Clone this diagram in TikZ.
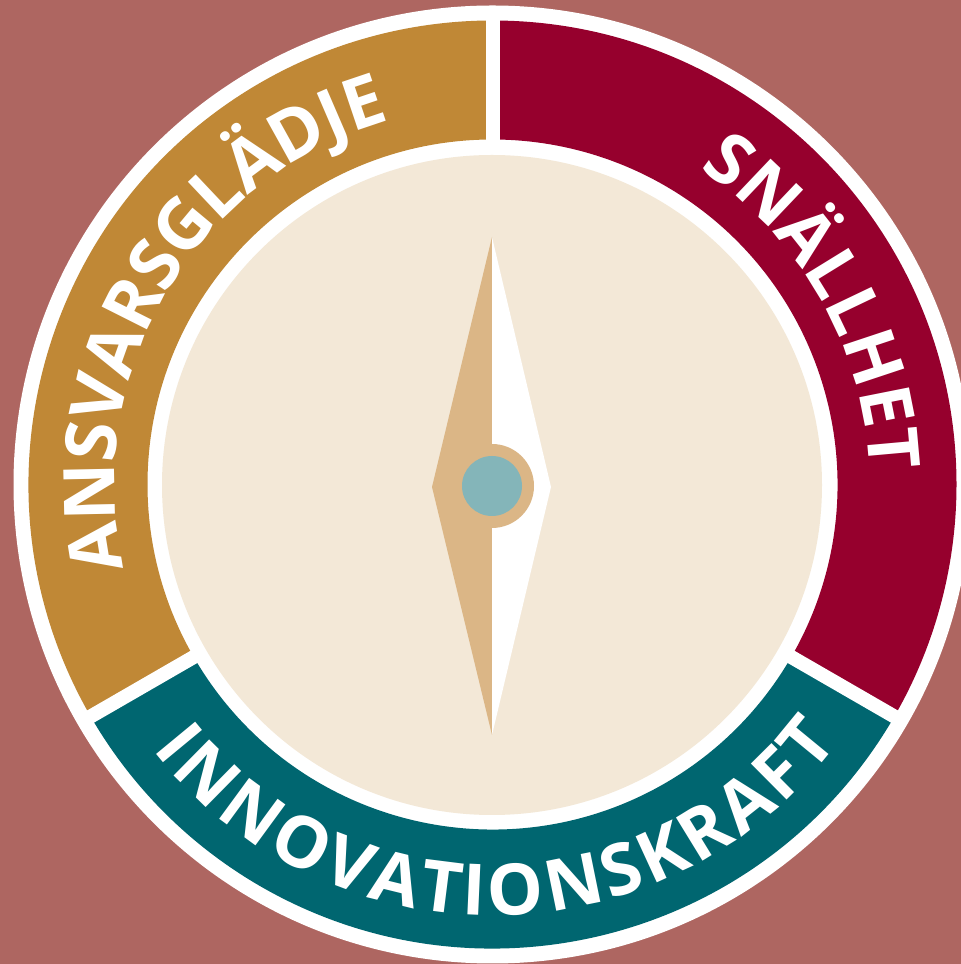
\documentclass[tikz,border=0pt]{standalone}
\usepackage{fontspec}
\setmainfont{Open Sans}[BoldFont={Open Sans Bold}]
\usetikzlibrary{decorations.text}
\definecolor{bg}{HTML}{AE6661}
\definecolor{gold}{HTML}{C08836}
\definecolor{crim}{HTML}{96002D}
\definecolor{teal2}{HTML}{006670}
\definecolor{beige}{HTML}{F3E8D7}
\definecolor{tan2}{HTML}{DBB686}
\definecolor{blue2}{HTML}{84B5B9}
\newcommand{\RO}{464}
\newcommand{\RI}{345}
\tikzset{
  fittext/.style={decorate,decoration={text effects along path,text={#1},
    text effects/.cd,text along path,fit text to path,
    characters={text=white,font=\fontsize{71}{71}\selectfont\bfseries}}},
}
\begin{document}
\begin{tikzpicture}[x=1pt,y=1pt]
\useasboundingbox (0,0) rectangle (961,964);
\fill[bg] (0,0) rectangle (961,964);
\begin{scope}
\clip (0,0) rectangle (961,964);
\coordinate (c) at (492.5,479.5);
\fill[white] (c) circle[radius=479];
\fill[crim] (c) ++(90:\RO) arc[start angle=90,end angle=-30,radius=\RO] -- ++(150:119) arc[start angle=-30,end angle=90,radius=\RI] -- cycle;
\fill[teal2] (c) ++(-30:\RO) arc[start angle=-30,end angle=-150,radius=\RO] -- ++(30:119) arc[start angle=-150,end angle=-30,radius=\RI] -- cycle;
\fill[gold] (c) ++(210:\RO) arc[start angle=210,end angle=90,radius=\RO] -- ++(-90:119) arc[start angle=90,end angle=210,radius=\RI] -- cycle;
\draw[white,line width=14pt] (c) ++(90:340) -- ++(90:130);
\draw[white,line width=14pt] (c) ++(-30:340) -- ++(-30:130);
\draw[white,line width=14pt] (c) ++(210:340) -- ++(210:130);
\fill[beige] (492,479) circle[radius=330];
\fill[tan2] (492,229) -- (432,477) -- (492,727) -- cycle;
\fill[white] (492,229) -- (551,477) -- (492,727) -- cycle;
\fill[tan2] (492,478) circle[radius=42];
\fill[blue2] (492,478) circle[radius=30];
\path[fittext=ANSVARSGLÄDJE] (c) ++(192.8:378) arc[start angle=192.8,end angle=105.7,radius=378];
\path[fittext=SNÄLLHET] (c) ++(56.8:377) arc[start angle=56.8,end angle=2,radius=377];
\path[fittext=INNOVATIONSKRAFT] (c) ++(218:431) arc[start angle=218,end angle=323.3,radius=431];
\end{scope}
\end{tikzpicture}
\end{document}
